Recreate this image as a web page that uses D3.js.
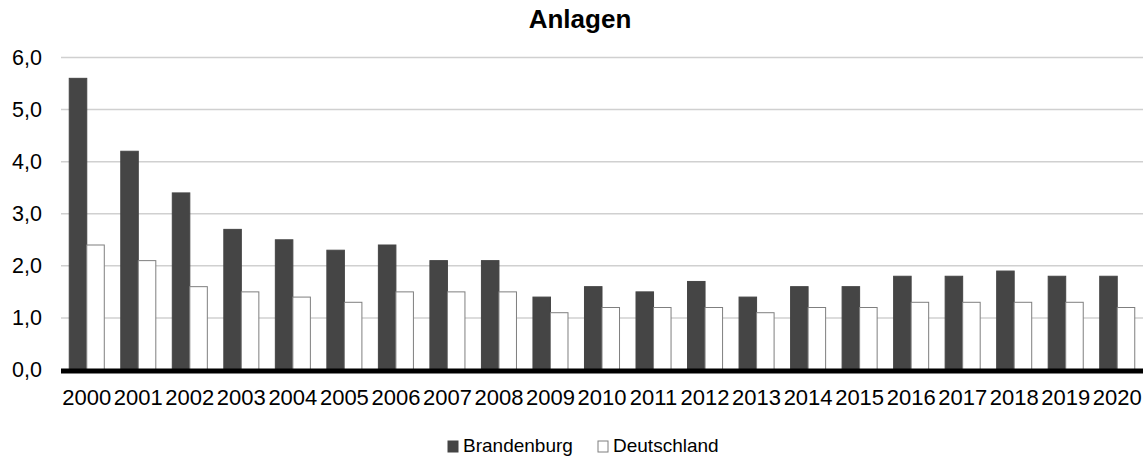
<!DOCTYPE html>
<html>
<head>
<meta charset="utf-8">
<script src="https://cdn.jsdelivr.net/npm/d3@7"></script>
<style>
  body { margin: 0; background: #fff; }
  text { font-family: "Liberation Sans", Arial, sans-serif; fill: #000; }
</style>
</head>
<body>
<div id="chart"></div>
<script>
var years = ["2000","2001","2002","2003","2004","2005","2006","2007","2008","2009","2010",
             "2011","2012","2013","2014","2015","2016","2017","2018","2019","2020"];
var brandenburg = [5.6,4.2,3.4,2.7,2.5,2.3,2.4,2.1,2.1,1.4,1.6,1.5,1.7,1.4,1.6,1.6,1.8,1.8,1.9,1.8,1.8];
var deutschland = [2.4,2.1,1.6,1.5,1.4,1.3,1.5,1.5,1.5,1.1,1.2,1.2,1.2,1.1,1.2,1.2,1.3,1.3,1.3,1.3,1.2];
var seriesNames = ["Brandenburg", "Deutschland"];
var yTicks = [0,1,2,3,4,5,6];

var W = 1146, H = 459;
var margin = {top: 57.5, right: 3, bottom: 89, left: 61},
    width = W - margin.left - margin.right,
    height = H - margin.top - margin.bottom;

var svg = d3.select("#chart").append("svg")
    .attr("width", W)
    .attr("height", H);

var g = svg.append("g")
    .attr("transform", "translate(" + margin.left + "," + margin.top + ")");

var x = d3.scaleBand()
    .domain(years)
    .range([0, width])
    .paddingInner(0.32)
    .paddingOuter(0.16);

var x1 = d3.scaleBand()
    .domain(seriesNames)
    .range([0, x.bandwidth()]);

var y = d3.scaleLinear()
    .domain([0, 6])
    .range([height, 0]);

// gridlines
g.append("g")
  .selectAll("line")
  .data(yTicks.slice(1))
  .enter().append("line")
    .attr("x1", 0)
    .attr("x2", width)
    .attr("y1", function(d) { return y(d); })
    .attr("y2", function(d) { return y(d); })
    .style("stroke", "#d0d0d0")
    .style("stroke-width", 1.5);

// y axis labels
var fmt = function(d) { return d3.format(".1f")(d).replace(".", ","); };
var yAxis = d3.axisLeft(y).tickValues(yTicks).tickFormat(fmt).tickSize(0).tickPadding(19);
g.append("g")
    .attr("class", "y axis")
    .call(yAxis)
    .call(function(s) { s.select(".domain").remove(); })
    .selectAll("text")
      .style("font-size", "21.5px")
      .attr("fill", "#000");

var data = years.map(function(yr, i) {
  return {year: yr, values: [brandenburg[i], deutschland[i]]};
});

var groups = g.selectAll(".grp")
  .data(data)
  .enter().append("g")
    .attr("class", "grp")
    .attr("transform", function(d) { return "translate(" + x(d.year) + ",0)"; });

groups.selectAll("rect")
  .data(function(d) { return d.values.map(function(v, j) { return {name: seriesNames[j], v: v}; }); })
  .enter().append("rect")
    .attr("x", function(d) { return x1(d.name); })
    .attr("y", function(d) { return y(d.v); })
    .attr("width", x1.bandwidth())
    .attr("height", function(d) { return height - y(d.v); })
    .style("fill", function(d) { return d.name === "Brandenburg" ? "#454545" : "#ffffff"; })
    .style("stroke", function(d) { return d.name === "Brandenburg" ? "#454545" : "#7f7f7f"; })
    .style("stroke-width", 1);

// x axis
var xAxis = d3.axisBottom(x).tickSize(0).tickPadding(19);
g.append("g")
    .attr("class", "x axis")
    .attr("transform", "translate(0," + height + ")")
    .call(xAxis)
    .call(function(s) { s.select(".domain").remove(); })
    .selectAll("text")
      .style("font-size", "22px")
      .attr("fill", "#000");

g.append("line")
    .attr("x1", 0)
    .attr("x2", width)
    .attr("y1", y(0) + 1)
    .attr("y2", y(0) + 1)
    .style("stroke", "#000")
    .style("stroke-width", 5);

// title
svg.append("text")
    .attr("x", 580)
    .attr("y", 28)
    .attr("text-anchor", "middle")
    .style("font-size", "26px")
    .style("font-weight", "bold")
    .text("Anlagen");

// legend
var legendX = [448, 598];
var legend = svg.selectAll(".legend")
  .data(seriesNames)
  .enter().append("g")
    .attr("class", "legend")
    .attr("transform", function(d, i) { return "translate(" + legendX[i] + ",441)"; });

legend.append("rect")
    .attr("width", 10)
    .attr("height", 11)
    .style("fill", function(d) { return d === "Brandenburg" ? "#454545" : "#fff"; })
    .style("stroke", function(d) { return d === "Brandenburg" ? "#454545" : "#7f7f7f"; });

legend.append("text")
    .attr("x", 15)
    .attr("y", 11)
    .style("font-size", "19px")
    .text(function(d) { return d; });
</script>
</body>
</html>
